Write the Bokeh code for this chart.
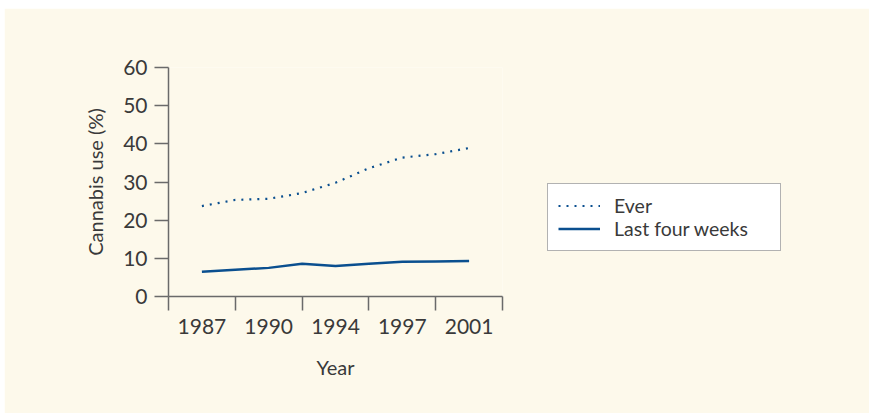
from bokeh.plotting import figure
from bokeh.models import Range1d, FixedTicker, Legend, LegendItem, ColumnDataSource
from bokeh.embed import file_html
from bokeh.resources import INLINE

# ---- data ----
x_pos = [0.5, 1.0, 1.5, 2.0, 2.5, 3.0, 3.5, 4.0, 4.5]
ever = [23.7, 25.3, 25.6, 27.1, 29.8, 33.6, 36.4, 37.3, 38.9]
last_four_weeks = [6.5, 7.0, 7.5, 8.6, 8.0, 8.6, 9.1, 9.2, 9.3]
tick_labels = ["1987", "1990", "1994", "1997", "2001"]
tick_label_pos = [0.5, 1.5, 2.5, 3.5, 4.5]
bin_edges = [0, 1, 2, 3, 4, 5]
y_ticks = [0, 10, 20, 30, 40, 50, 60]

CREAM = "#fdf9eb"
BLUE = "#0a4f8f"
AXIS = "#6a6a6a"
TEXT = "#3a3a3a"
FONT = "Lato"

p = figure(frame_width=334, frame_height=229, x_range=Range1d(0, 5), y_range=Range1d(0, 60),
           output_backend="svg", toolbar_location=None,
           min_border_left=164, min_border_right=367, min_border_top=59, min_border_bottom=117,
           background_fill_color=CREAM, border_fill_color=CREAM, outline_line_color=None)
p.margin = (8, 0, 0, 4)
p.grid.visible = False

src = ColumnDataSource(dict(x=x_pos, ever=ever, lfw=last_four_weeks))
r_ever = p.line("x", "ever", source=src, line_color=BLUE, line_width=2.2, line_dash="2 6")
r_lfw = p.line("x", "lfw", source=src, line_color=BLUE, line_width=2.5)

# x axis
xa = p.xaxis[0]
xa.ticker = FixedTicker(ticks=tick_label_pos, minor_ticks=bin_edges)
xa.major_label_overrides = {v: t for v, t in zip(tick_label_pos, tick_labels)}
xa.major_tick_line_color = None
xa.major_tick_out = 14
xa.major_tick_in = 0
xa.minor_tick_out = 14
xa.minor_tick_in = 0
xa.minor_tick_line_color = AXIS
xa.minor_tick_line_width = 1.5
xa.axis_line_color = AXIS
xa.axis_line_width = 1.5
xa.major_label_standoff = 8
xa.major_label_text_font = FONT
xa.major_label_text_font_size = "21px"
xa.major_label_text_color = TEXT
xa.axis_label = "Year"
xa.axis_label_text_font = FONT
xa.axis_label_text_font_style = "normal"
xa.axis_label_text_font_size = "20px"
xa.axis_label_text_color = TEXT
xa.axis_label_standoff = 18

# y axis
ya = p.yaxis[0]
ya.ticker = FixedTicker(ticks=y_ticks, minor_ticks=[])
ya.major_tick_out = 14
ya.major_tick_in = 0
ya.major_tick_line_color = AXIS
ya.major_tick_line_width = 1.5
ya.axis_line_color = AXIS
ya.axis_line_width = 1.5
ya.major_label_standoff = 7
ya.major_label_text_font = FONT
ya.major_label_text_font_size = "21px"
ya.major_label_text_color = TEXT
ya.axis_label = "Cannabis use (%)"
ya.axis_label_text_font = FONT
ya.axis_label_text_font_style = "normal"
ya.axis_label_text_font_size = "20px"
ya.axis_label_text_color = TEXT
ya.axis_label_standoff = 13

legend = Legend(items=[LegendItem(label="Ever", renderers=[r_ever]),
                       LegendItem(label="Last four weeks", renderers=[r_lfw])],
                location=(45, 45), margin=0, padding=10, spacing=0,
                glyph_width=42, glyph_height=21, label_height=21, label_width=156,
                label_standoff=14,
                label_text_font=FONT, label_text_font_size="19.5px", label_text_color=TEXT,
                border_line_color="#666666", border_line_width=1,
                background_fill_color="white", background_fill_alpha=1.0)
p.add_layout(legend, "right")

open("out.html", "w").write(file_html(p, INLINE))
